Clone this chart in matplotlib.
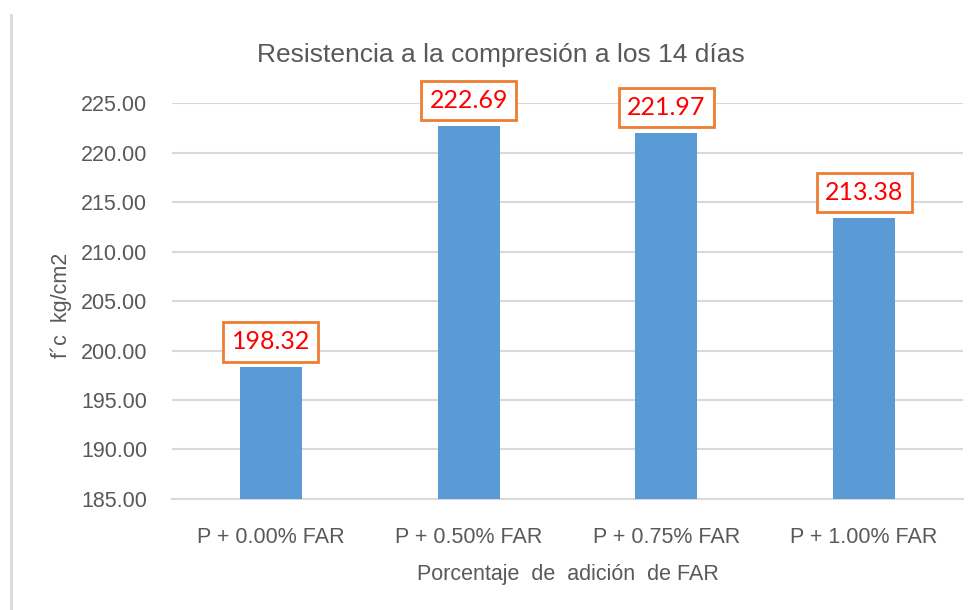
import matplotlib.pyplot as plt
from matplotlib.lines import Line2D

categorias = ["P + 0.00% FAR", "P + 0.50% FAR", "P + 0.75% FAR", "P + 1.00% FAR"]
resistencia = [198.32, 222.69, 221.97, 213.38]
y_ticks = [185, 190, 195, 200, 205, 210, 215, 220, 225]

fuente = ["Liberation Sans", "DejaVu Sans"]
gris = "#595959"

fig = plt.figure(figsize=(9.78, 6.10), dpi=100)
ax = fig.add_axes([0.1759, 0.182, 0.8088, 0.649])

x = range(len(categorias))
ax.bar(x, [v - 185 for v in resistencia], bottom=185, width=0.314,
       color="#5B9BD5", zorder=3)

ax.set_ylim(185, 225)
ax.set_xlim(-0.5, len(categorias) - 0.5)
ax.set_yticks(y_ticks)
ax.set_yticklabels([f"{t:.2f}" for t in y_ticks], fontsize=15.5,
                   color=gris, family=fuente)
ax.set_xticks(list(x))
ax.set_xticklabels(categorias, fontsize=15.5, color=gris, family=fuente)
ax.tick_params(length=0, pad=18, axis="y")
ax.tick_params(length=0, pad=20, axis="x")

ax.grid(axis="y", color="#d9d9d9", linewidth=1.5, zorder=0)
for s in ["left", "right", "top"]:
    ax.spines[s].set_visible(False)
ax.spines["bottom"].set_color("#d9d9d9")
ax.spines["bottom"].set_linewidth(1.5)

# etiquetas de datos en rojo con marco naranja
for i, v in enumerate(resistencia):
    ax.annotate(f"{v:.2f}", xy=(i, v), xytext=(0, 10), textcoords="offset points",
                ha="center", va="bottom", color="#FF0000", fontsize=18,
                family=["Lato", "DejaVu Sans"], annotation_clip=False,
                bbox=dict(boxstyle="square,pad=0.33", fc="white",
                          ec="#ED7D31", lw=2), zorder=5)

# título centrado en el área del gráfico
fig.text(501 / 978, 1 - 55 / 610, "Resistencia a la compresión a los 14 días",
         fontsize=19, color=gris, family=fuente, ha="center", va="center")
ax.set_xlabel("Porcentaje  de  adición  de FAR", fontsize=15.5, color=gris,
              family=fuente)
ax.xaxis.set_label_coords(0.5, -0.165)
ax.set_ylabel("f´c  kg/cm2", fontsize=15.5, color=gris, family=fuente)
ax.yaxis.set_label_coords(-0.127, 0.49)

# borde izquierdo del área del gráfico
fig.add_artist(Line2D([11 / 978, 11 / 978], [0, 1 - 15 / 610],
                      color="#d9d9d9", linewidth=2))

fig.savefig("out.png", dpi=100)
